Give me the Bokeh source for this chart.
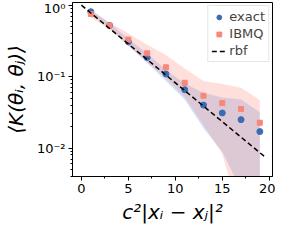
import numpy as np
from bokeh.plotting import figure
from bokeh.models import (FixedTicker, CustomJSTickFormatter, Legend, LegendItem,
                          ColumnDataSource, Range1d)
from bokeh.embed import file_html
from bokeh.resources import INLINE

# ---- data ----
dist = [1, 3, 5, 7, 9, 11, 13, 15, 17, 19]
exact_mean = [0.81, 0.52, 0.307, 0.185, 0.109, 0.0656, 0.040, 0.031, 0.025, 0.017]
exact_lo = [0.74, 0.47, 0.27, 0.155, 0.087, 0.048, 0.019, 0.0089, 0.0026, 0.002]
exact_hi = [0.88, 0.56, 0.34, 0.21, 0.125, 0.080, 0.0597, 0.051, 0.048, 0.0317]
ibmq_mean = [0.75, 0.52, 0.33, 0.212, 0.135, 0.082, 0.054, 0.0426, 0.0352, 0.0226]
ibmq_lo = [0.68, 0.46, 0.27, 0.16, 0.095, 0.052, 0.021, 0.0083, 0.001, 0.001]
ibmq_hi = [0.83, 0.57, 0.40, 0.28, 0.20, 0.13, 0.0865, 0.079, 0.070, 0.047]
rbf_x = [0.0, 19.45]
rbf_y = [1.0, 0.0077]
x_ticks = [0, 5, 10, 15, 20]
x_minor = [2.5, 7.5, 12.5, 17.5]
y_ticks = [0.01, 0.1, 1.0]
y_minor = [m * 10.0 ** k for k in (-3, -2, -1) for m in range(2, 10)]

BLUE = "#3a6cb4"
SALMON = "#f8877a"

src = ColumnDataSource(dict(x=dist, em=exact_mean, elo=exact_lo, ehi=exact_hi,
                            im=ibmq_mean, ilo=ibmq_lo, ihi=ibmq_hi))

p = figure(width=275, height=226, y_axis_type="log",
           x_range=Range1d(-0.95, 20.35), y_range=Range1d(0.0040, 1.09),
           output_backend="svg", toolbar_location=None,
           min_border_left=62, min_border_right=3, min_border_top=2, min_border_bottom=47)

p.varea(x="x", y1="elo", y2="ehi", source=src, fill_color="#6d9be0", fill_alpha=0.3)
p.varea(x="x", y1="ilo", y2="ihi", source=src, fill_color="#fa8072", fill_alpha=0.25)
r_exact = p.scatter(x="x", y="em", source=src, size=6, marker="circle",
                    fill_color=BLUE, line_color=BLUE)
r_ibmq = p.scatter(x="x", y="im", source=src, size=5, marker="square",
                   fill_color=SALMON, line_color=SALMON, line_width=1)
r_rbf = p.line(rbf_x, rbf_y, line_color="black", line_width=1.5, line_dash="5 3")

legend = Legend(items=[LegendItem(label="exact", renderers=[r_exact]),
                       LegendItem(label="IBMQ", renderers=[r_ibmq]),
                       LegendItem(label="rbf", renderers=[r_rbf])],
                location="top_right")
legend.label_text_font = "DejaVu Sans"
legend.label_text_font_size = "13px"
legend.label_height = 12
legend.glyph_height = 12
legend.glyph_width = 15
legend.label_standoff = 3
legend.spacing = 2
legend.padding = 3
legend.margin = 3
legend.border_line_color = "#cccccc"
legend.border_line_width = 1
legend.background_fill_alpha = 0.8
p.add_layout(legend)

p.grid.visible = False
p.outline_line_color = "black"
p.outline_line_width = 1

p.xaxis.ticker = FixedTicker(ticks=x_ticks, minor_ticks=x_minor)
p.yaxis.ticker = FixedTicker(ticks=y_ticks, minor_ticks=y_minor)
p.yaxis.formatter = CustomJSTickFormatter(code="""
const sup = {'-':'\u207b','0':'\u2070','1':'\u00b9','2':'\u00b2','3':'\u00b3'};
const e = Math.round(Math.log10(tick));
return '10' + String(e).split('').map(c => sup[c]).join('');
""")

for ax in (p.xaxis, p.yaxis):
    ax.axis_line_color = "black"
    ax.major_tick_in = 0
    ax.major_tick_out = 4
    ax.minor_tick_in = 0
    ax.minor_tick_out = 2
    ax.major_tick_line_color = "black"
    ax.minor_tick_line_color = "black"
    ax.major_label_text_font = "DejaVu Sans"
    ax.major_label_text_font_size = "13px"
    ax.major_label_text_color = "black"
    ax.axis_label_text_font = "DejaVu Sans"
    ax.axis_label_text_font_size = "20px"
    ax.axis_label_text_font_style = "italic"
    ax.axis_label_text_color = "black"
    ax.major_label_standoff = 3

p.xaxis.axis_label = "c\u00b2|x\u1d62 \u2212 x\u2c7c|\u00b2"
p.yaxis.axis_label = "\u27e8K(\u03b8\u1d62, \u03b8\u2c7c)\u27e9"
p.xaxis.axis_label_standoff = 4
p.yaxis.axis_label_standoff = 6

open("out.html", "w").write(file_html(p, INLINE))
